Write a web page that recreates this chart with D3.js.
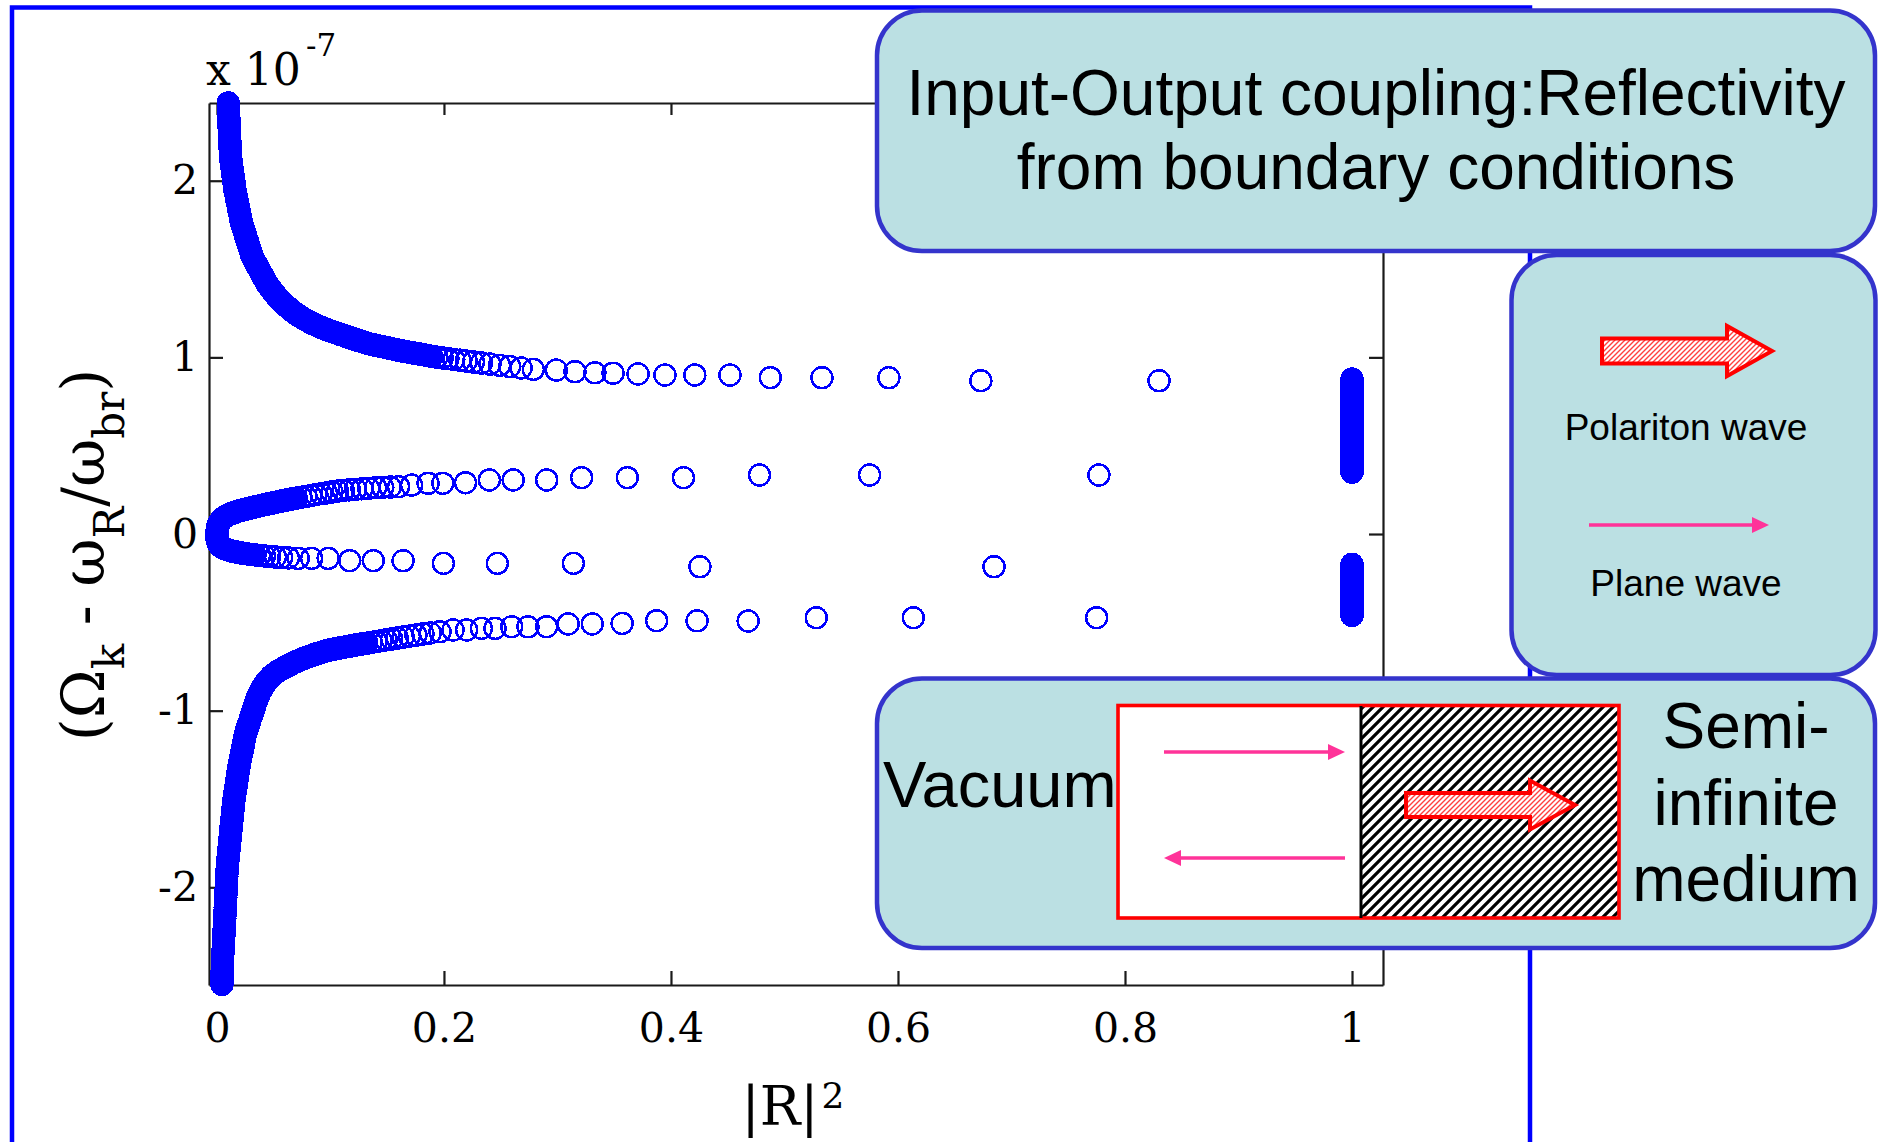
<!DOCTYPE html>
<html><head><meta charset="utf-8">
<script src="https://cdn.jsdelivr.net/npm/d3@7"></script>
<style>html,body{margin:0;padding:0;background:#fff;}svg{display:block;}</style>
</head><body>
<script>
// ---------------- data ----------------
const xTicks = [0, 0.2, 0.4, 0.6, 0.8, 1];
const xTickLabels = ["0", "0.2", "0.4", "0.6", "0.8", "1"];
const yTicks = [-2, -1, 0, 1, 2];
const yTickLabels = ["-2", "-1", "0", "1", "2"];

// upper branch (from the top of the plot down to ~0.87)
const branchA = [
[0.0100,2.440],[0.0101,2.423],[0.0102,2.406],[0.0103,2.389],[0.0104,2.372],[0.0105,2.355],[0.0105,2.338],[0.0106,2.321],
[0.0108,2.304],[0.0109,2.287],[0.0110,2.270],[0.0111,2.253],[0.0113,2.236],[0.0114,2.219],[0.0115,2.202],[0.0116,2.185],
[0.0118,2.168],[0.0119,2.151],[0.0120,2.134],[0.0124,2.117],[0.0127,2.100],[0.0131,2.083],[0.0134,2.066],[0.0138,2.049],
[0.0141,2.032],[0.0145,2.015],[0.0148,1.998],[0.0152,1.981],[0.0155,1.964],[0.0159,1.947],[0.0164,1.930],[0.0170,1.913],
[0.0175,1.896],[0.0180,1.879],[0.0186,1.862],[0.0191,1.845],[0.0196,1.828],[0.0202,1.811],[0.0207,1.794],[0.0212,1.777],
[0.0218,1.760],[0.0226,1.743],[0.0234,1.726],[0.0243,1.709],[0.0251,1.692],[0.0259,1.675],[0.0268,1.658],[0.0276,1.641],
[0.0285,1.624],[0.0293,1.607],[0.0301,1.590],[0.0310,1.573],[0.0323,1.556],[0.0337,1.539],[0.0351,1.522],[0.0366,1.505],
[0.0380,1.488],[0.0394,1.471],[0.0409,1.454],[0.0423,1.437],[0.0437,1.420],[0.0455,1.404],[0.0473,1.388],[0.0491,1.373],
[0.0510,1.358],[0.0530,1.343],[0.0550,1.329],[0.0571,1.315],[0.0592,1.302],[0.0614,1.289],[0.0636,1.277],[0.0659,1.265],
[0.0682,1.253],[0.0706,1.242],[0.0731,1.231],[0.0755,1.222],[0.0779,1.213],[0.0803,1.205],[0.0827,1.197],[0.0851,1.189],
[0.0875,1.182],[0.0899,1.175],[0.0923,1.168],[0.0947,1.162],[0.0971,1.156],[0.0995,1.150],[0.1020,1.145],[0.1045,1.140],
[0.1070,1.134],[0.1095,1.128],[0.1120,1.123],[0.1145,1.117],[0.1170,1.112],[0.1195,1.106],[0.1220,1.101],[0.1245,1.096],
[0.1270,1.091],[0.1295,1.086],[0.1320,1.080],[0.1352,1.075],[0.1385,1.070],[0.1418,1.065],[0.1452,1.061],[0.1487,1.056],
[0.1523,1.051],[0.1560,1.046],[0.1598,1.041],[0.1637,1.036],[0.1677,1.031],[0.1718,1.026],[0.1760,1.021],[0.1803,1.016],
[0.1847,1.011],[0.1892,1.006],[0.1938,1.001],[0.1985,0.997],[0.2035,0.993],[0.2087,0.988],[0.2141,0.984],[0.2197,0.979],
[0.2260,0.974],[0.2330,0.968],[0.2405,0.962],[0.2490,0.955],[0.2580,0.948],[0.2680,0.940],[0.2787,0.932],[0.2990,0.928],
[0.3154,0.919],[0.3330,0.913],[0.3490,0.910],[0.3710,0.906],[0.3947,0.900],[0.4210,0.900],[0.4520,0.900],[0.4875,0.885],
[0.5330,0.885],[0.5920,0.885],[0.6730,0.868],[0.8300,0.868]
];
// further points read inside the solid part of the upper branch
const branchAFill = [
[0.0100,2.432],[0.0101,2.415],[0.0102,2.398],[0.0103,2.381],[0.0104,2.364],[0.0105,2.347],[0.0105,2.330],[0.0107,2.313],
[0.0108,2.296],[0.0109,2.279],[0.0110,2.262],[0.0112,2.245],[0.0113,2.228],[0.0114,2.211],[0.0115,2.194],[0.0117,2.177],
[0.0118,2.160],[0.0119,2.143],[0.0122,2.126],[0.0125,2.109],[0.0129,2.092],[0.0132,2.075],[0.0136,2.058],[0.0139,2.041],
[0.0143,2.024],[0.0146,2.007],[0.0150,1.990],[0.0153,1.973],[0.0157,1.956],[0.0161,1.939],[0.0167,1.922],[0.0172,1.905],
[0.0177,1.888],[0.0183,1.871],[0.0188,1.854],[0.0193,1.837],[0.0199,1.820],[0.0204,1.803],[0.0209,1.786],[0.0215,1.769],
[0.0222,1.752],[0.0230,1.735],[0.0238,1.718],[0.0247,1.701],[0.0255,1.684],[0.0263,1.667],[0.0272,1.650],[0.0280,1.633],
[0.0289,1.616],[0.0297,1.599],[0.0305,1.582],[0.0316,1.565],[0.0330,1.548],[0.0344,1.531],[0.0358,1.514],[0.0373,1.497],
[0.0387,1.480],[0.0401,1.463],[0.0416,1.446],[0.0430,1.429],[0.0446,1.412],[0.0464,1.396],[0.0482,1.381],[0.0500,1.366],
[0.0520,1.351],[0.0540,1.336],[0.0560,1.322],[0.0581,1.309],[0.0603,1.296],[0.0625,1.283],[0.0647,1.271],[0.0670,1.259],
[0.0694,1.248],[0.0718,1.237],[0.0743,1.227],[0.0767,1.218],[0.0791,1.209],[0.0815,1.201],[0.0839,1.193],[0.0863,1.186],
[0.0887,1.179],[0.0911,1.172],[0.0935,1.165],[0.0959,1.159],[0.0983,1.153],[0.1008,1.148],[0.1033,1.143],[0.1058,1.137],
[0.1083,1.131],[0.1108,1.126],[0.1133,1.120],[0.1158,1.115],[0.1183,1.109],[0.1208,1.104],[0.1233,1.099],[0.1258,1.094],
[0.1283,1.089],[0.1308,1.083],[0.1336,1.078],[0.1369,1.073],[0.1402,1.068],[0.1435,1.063],[0.1470,1.059],[0.1505,1.054],
[0.1542,1.049],[0.1579,1.044],[0.1618,1.039],[0.1657,1.034],[0.1698,1.029],[0.1739,1.024],[0.1782,1.019],[0.1825,1.014],
[0.1870,1.009]
];

// upper arm of the C-shaped middle branch
const branchB = [
[0.0000,0.000],[0.0001,0.017],[0.0004,0.034],[0.0010,0.049],[0.0019,0.062],[0.0031,0.074],[0.0045,0.084],[0.0061,0.093],
[0.0079,0.101],[0.0098,0.108],[0.0118,0.114],[0.0139,0.119],[0.0161,0.124],[0.0184,0.129],[0.0207,0.133],[0.0231,0.137],
[0.0255,0.141],[0.0280,0.145],[0.0306,0.149],[0.0333,0.153],[0.0365,0.158],[0.0398,0.163],[0.0432,0.168],[0.0467,0.173],
[0.0503,0.178],[0.0540,0.183],[0.0578,0.188],[0.0617,0.193],[0.0657,0.198],[0.0698,0.203],[0.0740,0.208],[0.0783,0.213],
[0.0827,0.218],[0.0872,0.223],[0.0918,0.228],[0.0965,0.233],[0.1013,0.238],[0.1062,0.243],[0.1113,0.247],[0.1166,0.250],
[0.1221,0.253],[0.1278,0.256],[0.1337,0.259],[0.1398,0.262],[0.1461,0.264],[0.1527,0.266],[0.1600,0.268],[0.1715,0.277],
[0.1860,0.287],[0.1990,0.287],[0.2190,0.290],[0.2400,0.306],[0.2610,0.306],[0.2905,0.306],[0.3213,0.319],[0.3615,0.319],
[0.4110,0.319],[0.4780,0.334],[0.5750,0.334],[0.7770,0.334]
];
const branchBFill = [
[0.0000,0.008],[0.0002,0.025],[0.0007,0.041],[0.0014,0.056],[0.0025,0.068],[0.0038,0.079],[0.0053,0.088],[0.0070,0.097],
[0.0088,0.104],[0.0108,0.111],[0.0128,0.116],[0.0150,0.121],[0.0172,0.126],[0.0195,0.131],[0.0219,0.135],[0.0243,0.139],
[0.0267,0.143],[0.0293,0.147],[0.0319,0.151],[0.0349,0.155],[0.0381,0.160],[0.0415,0.165],[0.0449,0.170],[0.0485,0.175],
[0.0521,0.180],[0.0559,0.185],[0.0597,0.190],[0.0637,0.195],[0.0677,0.200]
];

// lower arm of the C-shaped middle branch
const branchC = [
[0.0000,-0.017],[0.0003,-0.033],[0.0009,-0.048],[0.0019,-0.060],[0.0032,-0.069],[0.0047,-0.076],[0.0064,-0.082],[0.0082,-0.087],
[0.0101,-0.091],[0.0121,-0.095],[0.0142,-0.098],[0.0164,-0.101],[0.0187,-0.104],[0.0211,-0.107],[0.0236,-0.109],[0.0265,-0.112],
[0.0298,-0.115],[0.0335,-0.118],[0.0375,-0.121],[0.0418,-0.124],[0.0465,-0.127],[0.0516,-0.130],[0.0571,-0.132],[0.0630,-0.135],
[0.0716,-0.138],[0.0834,-0.138],[0.0980,-0.138],[0.1170,-0.151],[0.1377,-0.151],[0.1640,-0.151],[0.1995,-0.166],[0.2470,-0.166],
[0.3140,-0.166],[0.4255,-0.185],[0.6846,-0.185]
];
const branchCFill = [
[0.0000,-0.008],[0.0001,-0.025],[0.0006,-0.040],[0.0014,-0.054],[0.0025,-0.065],[0.0039,-0.073],[0.0055,-0.079],[0.0073,-0.085],
[0.0091,-0.089],[0.0111,-0.093],[0.0131,-0.097],[0.0153,-0.100],[0.0175,-0.103],[0.0199,-0.106],[0.0223,-0.108],[0.0250,-0.111],
[0.0281,-0.114],[0.0316,-0.117]
];

// lower branch (from the bottom of the plot up to ~-0.47)
const branchD = [
[0.0044,-2.550],[0.0045,-2.533],[0.0045,-2.516],[0.0046,-2.499],[0.0046,-2.482],[0.0047,-2.465],[0.0047,-2.448],[0.0048,-2.431],
[0.0050,-2.414],[0.0051,-2.397],[0.0052,-2.380],[0.0054,-2.363],[0.0055,-2.346],[0.0057,-2.329],[0.0058,-2.312],[0.0059,-2.295],
[0.0061,-2.278],[0.0062,-2.261],[0.0063,-2.244],[0.0065,-2.227],[0.0066,-2.210],[0.0067,-2.193],[0.0069,-2.176],[0.0070,-2.159],
[0.0071,-2.142],[0.0073,-2.125],[0.0074,-2.108],[0.0075,-2.091],[0.0077,-2.074],[0.0078,-2.057],[0.0079,-2.040],[0.0081,-2.023],
[0.0082,-2.006],[0.0083,-1.989],[0.0084,-1.972],[0.0086,-1.955],[0.0087,-1.938],[0.0088,-1.921],[0.0090,-1.904],[0.0091,-1.887],
[0.0093,-1.870],[0.0096,-1.853],[0.0098,-1.836],[0.0101,-1.819],[0.0104,-1.802],[0.0106,-1.785],[0.0109,-1.768],[0.0111,-1.751],
[0.0114,-1.734],[0.0117,-1.717],[0.0119,-1.700],[0.0122,-1.683],[0.0124,-1.666],[0.0127,-1.649],[0.0130,-1.632],[0.0133,-1.615],
[0.0135,-1.598],[0.0138,-1.581],[0.0141,-1.564],[0.0143,-1.547],[0.0146,-1.530],[0.0149,-1.513],[0.0152,-1.496],[0.0156,-1.479],
[0.0160,-1.462],[0.0164,-1.445],[0.0168,-1.428],[0.0172,-1.411],[0.0176,-1.394],[0.0180,-1.377],[0.0184,-1.360],[0.0188,-1.343],
[0.0192,-1.326],[0.0197,-1.309],[0.0202,-1.292],[0.0207,-1.275],[0.0213,-1.258],[0.0218,-1.241],[0.0223,-1.224],[0.0229,-1.207],
[0.0234,-1.190],[0.0239,-1.173],[0.0245,-1.156],[0.0250,-1.139],[0.0256,-1.122],[0.0265,-1.105],[0.0274,-1.088],[0.0283,-1.071],
[0.0291,-1.054],[0.0300,-1.037],[0.0309,-1.020],[0.0318,-1.003],[0.0327,-0.986],[0.0335,-0.969],[0.0344,-0.952],[0.0352,-0.937],
[0.0361,-0.922],[0.0371,-0.907],[0.0382,-0.892],[0.0394,-0.878],[0.0407,-0.864],[0.0421,-0.850],[0.0436,-0.836],[0.0452,-0.823],
[0.0470,-0.811],[0.0489,-0.800],[0.0509,-0.790],[0.0530,-0.780],[0.0552,-0.771],[0.0575,-0.763],[0.0598,-0.755],[0.0622,-0.747],
[0.0646,-0.739],[0.0670,-0.731],[0.0695,-0.724],[0.0720,-0.717],[0.0745,-0.710],[0.0770,-0.703],[0.0796,-0.697],[0.0822,-0.691],
[0.0848,-0.685],[0.0874,-0.679],[0.0900,-0.674],[0.0926,-0.669],[0.0952,-0.664],[0.0978,-0.659],[0.1004,-0.655],[0.1035,-0.651],
[0.1067,-0.647],[0.1100,-0.643],[0.1134,-0.639],[0.1169,-0.635],[0.1205,-0.630],[0.1242,-0.626],[0.1280,-0.622],[0.1320,-0.618],
[0.1361,-0.614],[0.1403,-0.609],[0.1447,-0.604],[0.1492,-0.599],[0.1539,-0.594],[0.1588,-0.589],[0.1640,-0.583],[0.1695,-0.578],
[0.1753,-0.572],[0.1815,-0.566],[0.1880,-0.560],[0.1965,-0.553],[0.2080,-0.543],[0.2200,-0.543],[0.2330,-0.534],[0.2450,-0.534],
[0.2597,-0.525],[0.2740,-0.525],[0.2905,-0.525],[0.3095,-0.509],[0.3307,-0.509],[0.3570,-0.506],[0.3874,-0.491],[0.4230,-0.491],
[0.4680,-0.4925],[0.5280,-0.474],[0.6135,-0.474],[0.7750,-0.474]
];
const branchDFill = [
[0.0044,-2.541],[0.0045,-2.524],[0.0045,-2.507],[0.0046,-2.490],[0.0046,-2.473],[0.0047,-2.456],[0.0047,-2.439],[0.0049,-2.422],
[0.0050,-2.405],[0.0051,-2.388],[0.0053,-2.371],[0.0054,-2.354],[0.0056,-2.337],[0.0057,-2.320],[0.0058,-2.303],[0.0060,-2.286],
[0.0061,-2.269],[0.0062,-2.252],[0.0064,-2.235],[0.0065,-2.218],[0.0066,-2.201],[0.0068,-2.184],[0.0069,-2.167],[0.0070,-2.150],
[0.0072,-2.133],[0.0073,-2.116],[0.0074,-2.099],[0.0076,-2.082],[0.0077,-2.065],[0.0078,-2.048],[0.0080,-2.031],[0.0081,-2.014],
[0.0082,-1.997],[0.0083,-1.980],[0.0085,-1.963],[0.0086,-1.946],[0.0087,-1.929],[0.0089,-1.912],[0.0090,-1.895],[0.0092,-1.878],
[0.0094,-1.861],[0.0097,-1.844],[0.0099,-1.827],[0.0102,-1.810],[0.0105,-1.793],[0.0107,-1.776],[0.0110,-1.759],[0.0112,-1.742],
[0.0115,-1.725],[0.0118,-1.708],[0.0120,-1.691],[0.0123,-1.674],[0.0125,-1.657],[0.0128,-1.640],[0.0131,-1.623],[0.0134,-1.606],
[0.0136,-1.589],[0.0139,-1.572],[0.0142,-1.555],[0.0144,-1.538],[0.0147,-1.521],[0.0150,-1.504],[0.0154,-1.487],[0.0158,-1.470],
[0.0162,-1.453],[0.0166,-1.436],[0.0170,-1.419],[0.0174,-1.402],[0.0178,-1.385],[0.0182,-1.368],[0.0186,-1.351],[0.0190,-1.334],
[0.0194,-1.317],[0.0199,-1.300],[0.0204,-1.283],[0.0210,-1.266],[0.0215,-1.249],[0.0220,-1.232],[0.0226,-1.215],[0.0231,-1.198],
[0.0236,-1.181],[0.0242,-1.164],[0.0247,-1.147],[0.0253,-1.130],[0.0260,-1.113],[0.0269,-1.096],[0.0278,-1.079],[0.0287,-1.062],
[0.0295,-1.045],[0.0304,-1.028],[0.0313,-1.011],[0.0322,-0.994],[0.0331,-0.977],[0.0339,-0.960],[0.0348,-0.944],[0.0356,-0.929],
[0.0366,-0.914],[0.0376,-0.899],[0.0388,-0.885],[0.0400,-0.871],[0.0414,-0.857],[0.0428,-0.843],[0.0444,-0.829],[0.0461,-0.817],
[0.0479,-0.805],[0.0499,-0.795],[0.0519,-0.785],[0.0541,-0.775],[0.0563,-0.767],[0.0586,-0.759],[0.0610,-0.751],[0.0634,-0.743],
[0.0658,-0.735],[0.0682,-0.727],[0.0707,-0.720],[0.0732,-0.713],[0.0757,-0.706],[0.0783,-0.700],[0.0809,-0.694],[0.0835,-0.688],
[0.0861,-0.682],[0.0887,-0.676],[0.0913,-0.671],[0.0939,-0.666],[0.0965,-0.661],[0.0991,-0.657],[0.1019,-0.653],[0.1051,-0.649],
[0.1083,-0.645],[0.1117,-0.641],[0.1151,-0.637],[0.1187,-0.632],[0.1223,-0.628],[0.1261,-0.624],[0.1300,-0.620]
];

// total reflection cluster at |R|^2 = 1
const edgeUpper = [
[1,0.877],[1,0.869],[1,0.860],[1,0.852],[1,0.843],[1,0.835],[1,0.826],[1,0.818],[1,0.809],[1,0.801],[1,0.792],[1,0.784],
[1,0.775],[1,0.767],[1,0.758],[1,0.750],[1,0.741],[1,0.733],[1,0.724],[1,0.716],[1,0.707],[1,0.699],[1,0.690],[1,0.682],
[1,0.673],[1,0.665],[1,0.656],[1,0.648],[1,0.639],[1,0.631],[1,0.622],[1,0.614],[1,0.605],[1,0.597],[1,0.588],[1,0.580],
[1,0.571],[1,0.563],[1,0.554],[1,0.546],[1,0.537],[1,0.529],[1,0.520],[1,0.512],[1,0.503],[1,0.495],[1,0.486],[1,0.478],
[1,0.469],[1,0.461],[1,0.452],[1,0.444],[1,0.435],[1,0.427],[1,0.418],[1,0.410],[1,0.401],[1,0.393],[1,0.384],[1,0.376],
[1,0.367],[1,0.359],[1,0.350]
];
const edgeLower = [
[1,-0.172],[1,-0.181],[1,-0.189],[1,-0.198],[1,-0.206],[1,-0.215],[1,-0.223],[1,-0.232],[1,-0.240],[1,-0.249],[1,-0.257],
[1,-0.266],[1,-0.274],[1,-0.283],[1,-0.291],[1,-0.300],[1,-0.308],[1,-0.317],[1,-0.325],[1,-0.334],[1,-0.342],[1,-0.351],
[1,-0.359],[1,-0.368],[1,-0.376],[1,-0.385],[1,-0.393],[1,-0.402],[1,-0.410],[1,-0.419],[1,-0.427],[1,-0.436],[1,-0.444],
[1,-0.453],[1,-0.461]
];

const titleLines = ["Input-Output coupling:Reflectivity", "from boundary conditions"];
const legendLabels = ["Polariton wave", "Plane wave"];
const mediumLabels = ["Semi-", "infinite", "medium"];

// ---------------- drawing ----------------
const W = 1885, H = 1142;
const svg = d3.select("body").append("svg").attr("width", W).attr("height", H);
svg.append("rect").attr("width", W).attr("height", H).attr("fill", "#fff");

const defs = svg.append("defs");
const hb = defs.append("pattern").attr("id", "hatchBlack").attr("patternUnits", "userSpaceOnUse")
  .attr("width", 10).attr("height", 10);
hb.append("rect").attr("width", 10).attr("height", 10).attr("fill", "#fff");
hb.append("path").attr("d", "M-2.5,2.5 L2.5,-2.5 M0,10 L10,0 M7.5,12.5 L12.5,7.5")
  .attr("stroke", "#000").attr("stroke-width", 3.2);
const hr = defs.append("pattern").attr("id", "hatchRed").attr("patternUnits", "userSpaceOnUse")
  .attr("width", 5).attr("height", 5);
hr.append("rect").attr("width", 5).attr("height", 5).attr("fill", "#fff");
hr.append("path").attr("d", "M-1.25,1.25 L1.25,-1.25 M0,5 L5,0 M3.75,6.25 L6.25,3.75")
  .attr("stroke", "#ff4040").attr("stroke-width", 1.4);

// slide frame
svg.append("path").attr("d", "M12,1160 V7.5 H1530 V1160")
  .attr("fill", "none").attr("stroke", "#0000ff").attr("stroke-width", 4.5);

const plot = {left: 209, right: 1383, top: 103, bottom: 985};
const x = d3.scaleLinear().domain([-0.007, 1.0273]).range([plot.left, plot.right]);
const y = d3.scaleLinear().domain([-2.553, 2.44]).range([plot.bottom, plot.top]);

const axColor = "#1a1a1a";
function styleAxis(g) {
  g.select(".domain").attr("stroke", axColor).attr("stroke-width", 2.2);
  g.selectAll(".tick line").attr("stroke", axColor).attr("stroke-width", 2.2);
  g.selectAll("text").attr("font-family", "DejaVu Serif").attr("font-size", 41).attr("fill", "#000");
}
svg.append("g").attr("transform", `translate(0,${plot.bottom})`)
  .call(d3.axisBottom(x).tickValues(xTicks).tickFormat((d, i) => xTickLabels[i]).tickSize(-14).tickSizeOuter(0).tickPadding(28))
  .call(styleAxis);
svg.append("g").attr("transform", `translate(0,${plot.top})`)
  .call(d3.axisTop(x).tickValues(xTicks).tickFormat("").tickSize(-12).tickSizeOuter(0))
  .call(styleAxis);
svg.append("g").attr("transform", `translate(${plot.left},0)`)
  .call(d3.axisLeft(y).tickValues(yTicks).tickFormat((d, i) => yTickLabels[i]).tickSize(-14).tickSizeOuter(0).tickPadding(11))
  .call(styleAxis);
svg.append("g").attr("transform", `translate(${plot.right},0)`)
  .call(d3.axisRight(y).tickValues(yTicks).tickFormat("").tickSize(-14).tickSizeOuter(0))
  .call(styleAxis);

// data points (aliased rings, like the bitmap original)
const allPoints = [].concat(branchA, branchAFill, branchB, branchBFill, branchC, branchCFill,
  branchD, branchDFill, edgeUpper, edgeLower);
svg.append("g").attr("shape-rendering", "crispEdges").selectAll("circle").data(allPoints).join("circle")
  .attr("cx", d => x(d[0])).attr("cy", d => y(d[1])).attr("r", 10.5)
  .attr("fill", "none").attr("stroke", "#0000ff").attr("stroke-width", 2.5);

// exponent label
const ex = svg.append("g").attr("font-family", "DejaVu Serif").attr("fill", "#000");
ex.append("text").attr("x", 206).attr("y", 85).attr("font-size", 44).text("x 10");
ex.append("text").attr("x", 306).attr("y", 56).attr("font-size", 31).text("-7");

// axis titles
const xl = svg.append("text").attr("x", 793).attr("y", 1125).attr("text-anchor", "middle")
  .attr("font-family", "DejaVu Serif").attr("font-size", 54).attr("fill", "#000");
xl.append("tspan").text("|R|");
xl.append("tspan").attr("font-size", 36).attr("dx", 3).attr("dy", -17).text("2");

const yl = svg.append("text").attr("transform", "translate(104,555) rotate(-90)").attr("text-anchor", "middle")
  .attr("font-family", "DejaVu Serif").attr("font-size", 59).attr("fill", "#000");
yl.append("tspan").text("(Ω");
yl.append("tspan").attr("font-size", 42).attr("dy", 20).text("k");
yl.append("tspan").attr("dy", -20).text(" - ω");
yl.append("tspan").attr("font-size", 42).attr("dy", 20).text("R");
yl.append("tspan").attr("dy", -20).text("/ω");
yl.append("tspan").attr("font-size", 42).attr("dy", 20).text("br");
yl.append("tspan").attr("dy", -20).text(")");

// ---------------- annotation boxes ----------------
const boxFill = "#BBE0E3", boxStroke = "#3434CC";
function box(bx, by, bw, bh) {
  svg.append("rect").attr("x", bx).attr("y", by).attr("width", bw).attr("height", bh).attr("rx", 45).attr("ry", 45)
    .attr("fill", boxFill).attr("stroke", boxStroke).attr("stroke-width", 4.5);
}
function blockArrow(x0, x1, xh, cy, hs, hh) {
  const p = `M${x0},${cy - hs} H${xh} V${cy - hh} L${x1},${cy} L${xh},${cy + hh} V${cy + hs} H${x0} Z`;
  svg.append("path").attr("d", p).attr("fill", "url(#hatchRed)").attr("stroke", "#ff0000")
    .attr("stroke-width", 4).attr("stroke-linejoin", "miter");
}
function pinkArrow(xa, xb, yy) {
  const dir = xb > xa ? 1 : -1, hl = 17, hw = 8;
  svg.append("line").attr("x1", xa).attr("x2", xb - dir * hl + dir * 1).attr("y1", yy).attr("y2", yy)
    .attr("stroke", "#ff3399").attr("stroke-width", 3.4);
  svg.append("path").attr("d", `M${xb},${yy} L${xb - dir * hl},${yy - hw} L${xb - dir * hl},${yy + hw} Z`).attr("fill", "#ff3399");
}
const sans = "Liberation Sans, Arial, sans-serif";

// title box
box(877, 10.5, 998, 240.5);
svg.append("g").selectAll("text").data(titleLines).join("text")
  .attr("x", 1376).attr("y", (d, i) => [115, 189][i]).attr("text-anchor", "middle")
  .attr("font-family", sans).attr("font-size", 64).attr("fill", "#000").text(d => d);

// legend box
box(1511.5, 255, 364, 420);
blockArrow(1602, 1772, 1727, 351, 12.5, 25);
pinkArrow(1589, 1769, 525);
svg.append("g").selectAll("text").data(legendLabels).join("text")
  .attr("x", 1686).attr("y", (d, i) => [440, 596][i]).attr("text-anchor", "middle")
  .attr("font-family", sans).attr("font-size", 37).attr("fill", "#000").text(d => d);

// interface box
box(877, 678.5, 998, 269.5);
svg.append("rect").attr("x", 1118).attr("y", 705.5).attr("width", 501).attr("height", 212.5)
  .attr("fill", "#fff").attr("stroke", "none");
svg.append("rect").attr("x", 1361).attr("y", 705.5).attr("width", 258).attr("height", 212.5)
  .attr("fill", "url(#hatchBlack)");
svg.append("rect").attr("x", 1118).attr("y", 705.5).attr("width", 501).attr("height", 212.5)
  .attr("fill", "none").attr("stroke", "#ff0000").attr("stroke-width", 3.6);
svg.append("line").attr("x1", 1361).attr("x2", 1361).attr("y1", 706).attr("y2", 918)
  .attr("stroke", "#000").attr("stroke-width", 3);
pinkArrow(1164, 1345, 752);
pinkArrow(1345, 1164, 858);
blockArrow(1406, 1575, 1530, 805, 12, 24.5);
svg.append("text").attr("x", 883).attr("y", 807).attr("font-family", sans).attr("font-size", 65)
  .attr("fill", "#000").text("Vacuum");
svg.append("g").selectAll("text").data(mediumLabels).join("text")
  .attr("x", 1746).attr("y", (d, i) => [748, 825, 901][i]).attr("text-anchor", "middle")
  .attr("font-family", sans).attr("font-size", 64).attr("fill", "#000").text(d => d);
</script>
</body></html>
